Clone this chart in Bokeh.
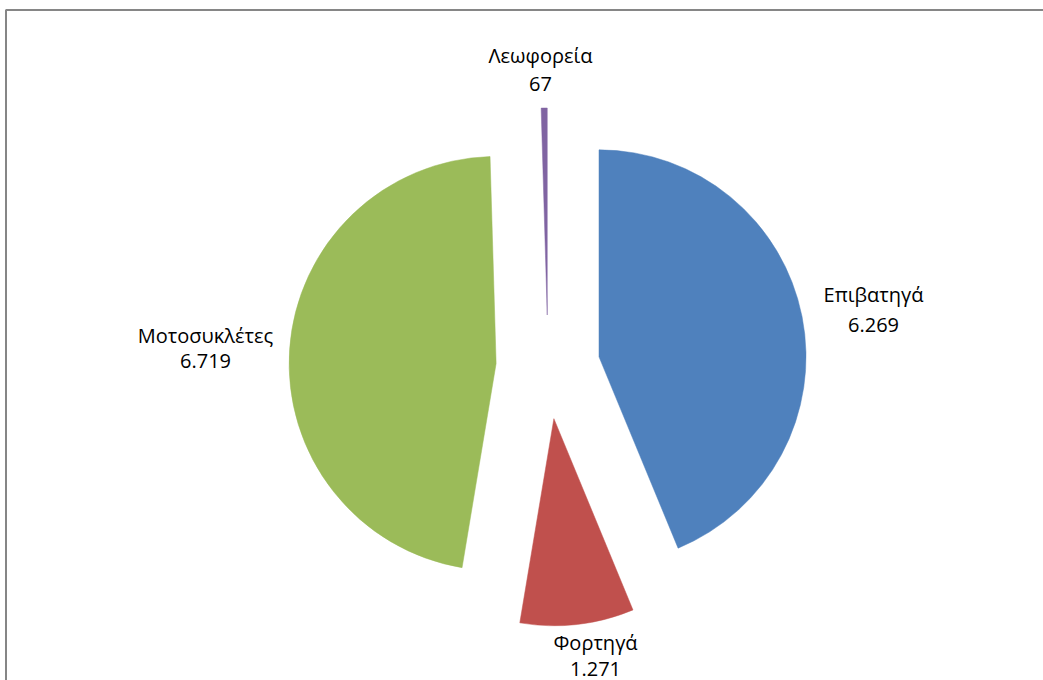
import math
from bokeh.plotting import figure
from bokeh.models import Range1d, ColumnDataSource
from bokeh.core.properties import value
from bokeh.embed import file_html
from bokeh.resources import INLINE

# ---- data ----
categories = ["Επιβατηγά", "Φορτηγά", "Μοτοσυκλέτες", "Λεωφορεία"]
values = [6269, 1271, 6719, 67]
colors = ["#4F81BD", "#C0504D", "#9BBB59", "#8064A2"]

# ---- layout (screen pixels) ----
W, H = 1043, 680
OX, OY = 0, 0                 # figure origin on the page
CENTER = (547.5, 366.5)       # pie centre on screen
RADIUS = 207
EXPLODE = 52
LABEL_POS = [(873, 294, 324), (595, 642, 668), (205, 335, 360), (540, 55, 83)]
FONT = "Open Sans"

def sx(x):
    return x - OX

def sy(y):
    return (H + OY) - y

p = figure(width=W, height=H, output_backend="svg", toolbar_location=None,
           x_range=Range1d(0, W), y_range=Range1d(0, H), min_border=0,
           outline_line_color=None, background_fill_color="white",
           border_fill_color="white")
p.axis.visible = False
p.grid.visible = False

total = float(sum(values))
xs, ys, starts, ends = [], [], [], []
cum = 0.0
for v in values:
    t1 = cum / total * 2 * math.pi
    cum += v
    t2 = cum / total * 2 * math.pi
    tm = (t1 + t2) / 2
    xs.append(sx(CENTER[0]) + EXPLODE * math.sin(tm))
    ys.append(sy(CENTER[1]) + EXPLODE * math.cos(tm))
    starts.append(math.pi / 2 - t1)
    ends.append(math.pi / 2 - t2)

src = ColumnDataSource(dict(x=xs, y=ys, start=starts, end=ends, color=colors))
p.wedge(x="x", y="y", radius=RADIUS, start_angle="start", end_angle="end",
        direction="clock", fill_color="color", line_color="color",
        line_width=0.5, source=src)

fmt = [f"{v:,}".replace(",", ".") for v in values]
lab = ColumnDataSource(dict(
    x=[sx(l[0]) for l in LABEL_POS],
    y1=[sy(l[1]) for l in LABEL_POS],
    y2=[sy(l[2]) for l in LABEL_POS],
    name=categories, val=fmt))
for ycol, tcol in (("y1", "name"), ("y2", "val")):
    p.text(x="x", y=ycol, text=tcol, source=lab, text_align="center",
           text_baseline="middle", text_font=value(FONT),
           text_font_size="20px", text_color="#000000")

# chart-area border (top and left visible in the viewport)
p.segment(x0=[sx(5), sx(5.5)], y0=[sy(9.5), sy(9.5)], x1=[W, sx(5.5)], y1=[sy(9.5), 0],
          line_color="#868686", line_width=2)

open("out.html", "w").write(file_html(p, INLINE))
